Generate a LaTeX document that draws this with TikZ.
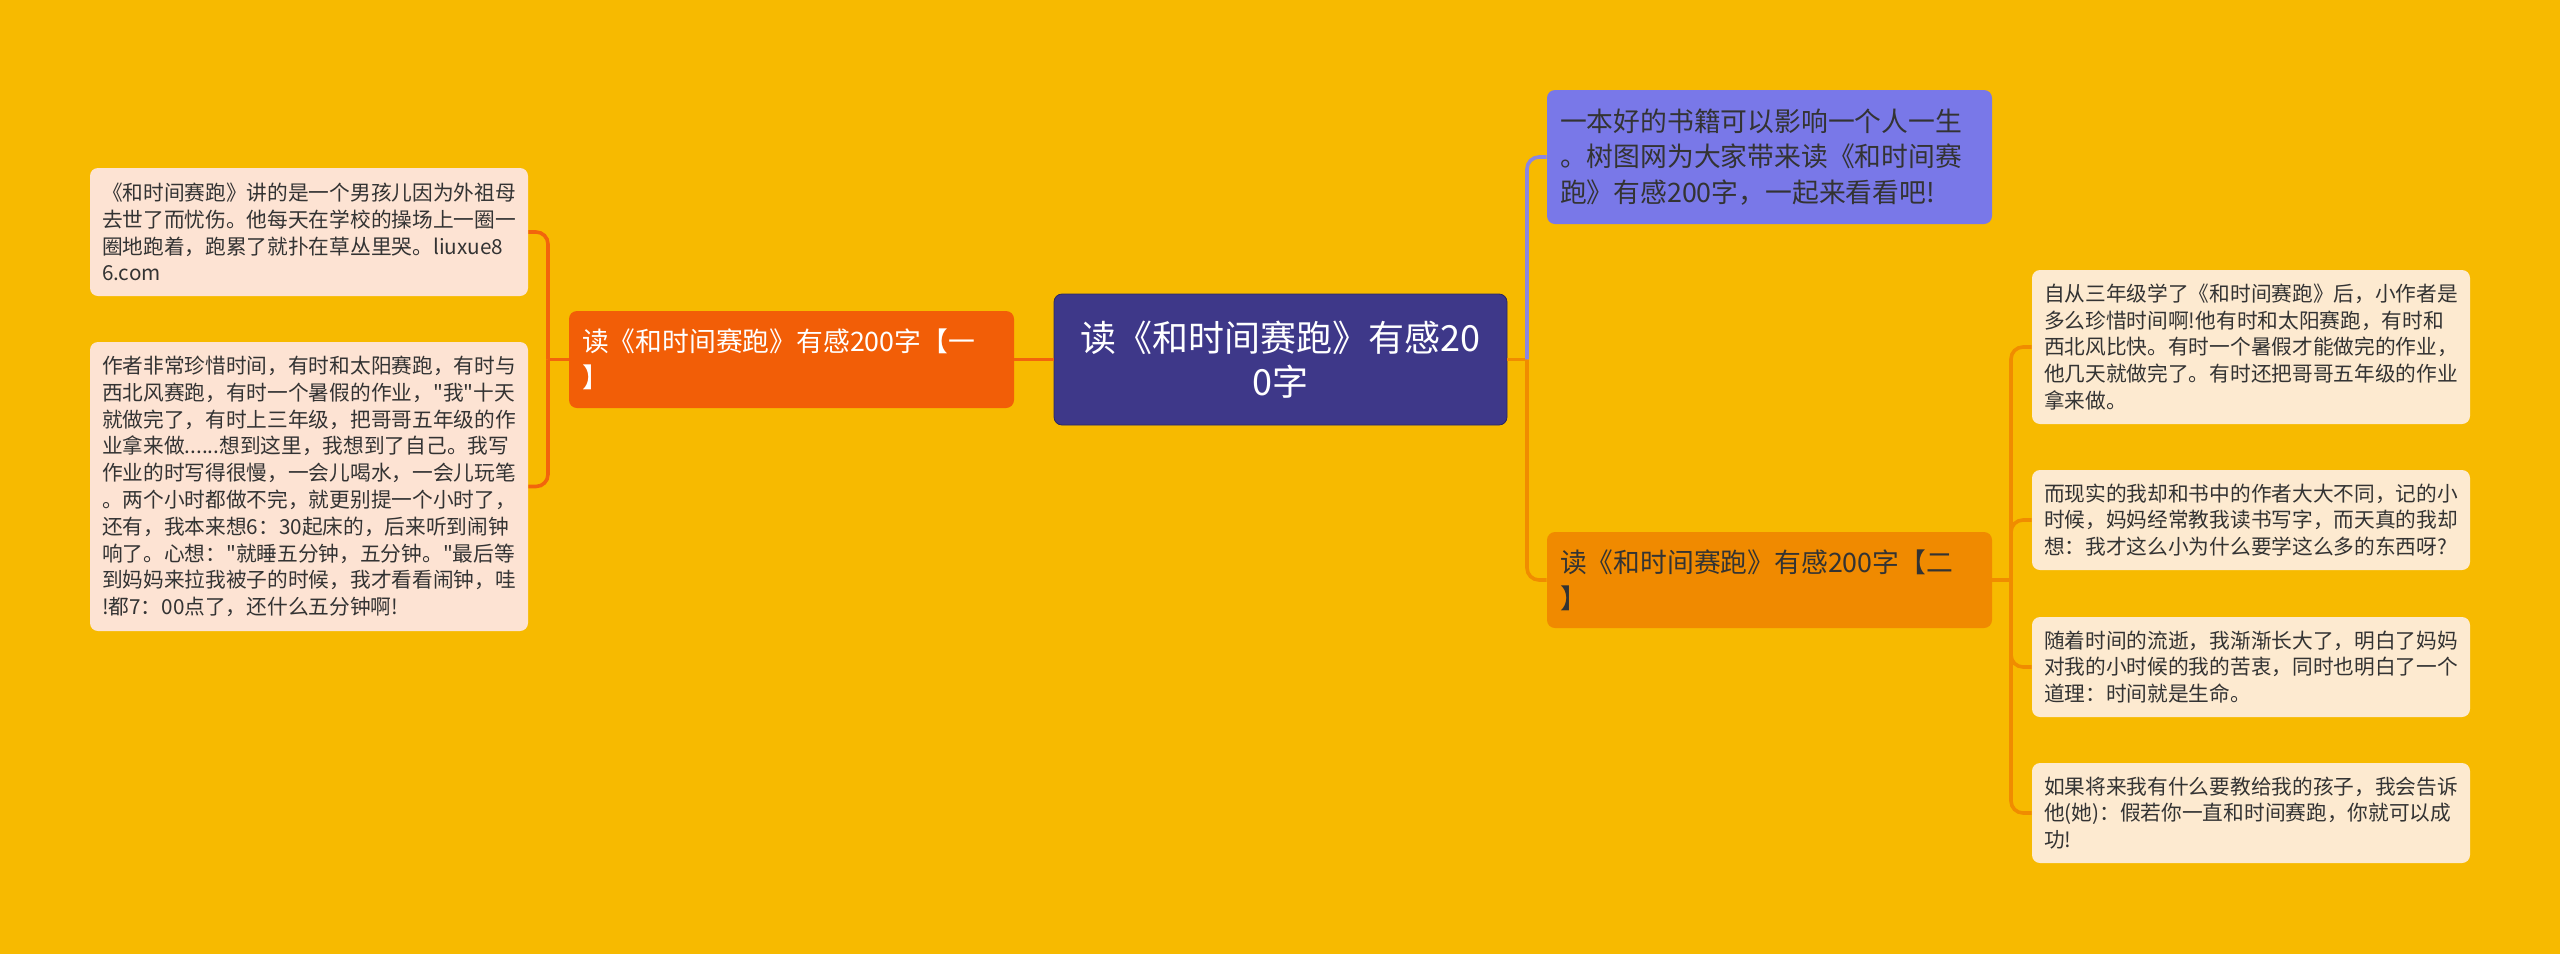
\documentclass[tikz,border=0pt]{standalone}
\usepackage{fontspec}
\setmainfont{Noto Sans CJK SC}[Ligatures=TeXOff]
\definecolor{bg}{HTML}{F7BA00}
\definecolor{centralfill}{HTML}{3E3889}
\definecolor{purplefill}{HTML}{7978E8}
\definecolor{redfill}{HTML}{F25E07}
\definecolor{orangefill}{HTML}{F08A00}
\definecolor{leftleaf}{HTML}{FDE3D3}
\definecolor{rightleaf}{HTML}{FDEAD0}
\definecolor{darktext}{HTML}{333333}
\definecolor{redline}{HTML}{F2650C}
\definecolor{orangeline}{HTML}{F08C00}
\definecolor{purpleline}{HTML}{8A86E2}
\tikzset{
  box/.style={rounded corners=4pt, align=left, inner ysep=2pt},
  leafl/.style={box, fill=leftleaf, text=darktext, minimum width=219pt, text width=207pt, inner xsep=6pt,
    font=\fontsize{10.35pt}{13.4pt}\selectfont},
  leafr/.style={leafl, fill=rightleaf},
  mid/.style={box, minimum width=222.5pt, text width=209.5pt, inner xsep=6.5pt,
    font=\fontsize{13.4pt}{17.8pt}\selectfont},
  centre/.style={rounded corners=4pt, fill=centralfill, text=white, align=center,
    minimum width=226.5pt, minimum height=65.5pt, text width=214pt,
    font=\fontsize{18pt}{22pt}\selectfont, draw=centralfill!70!black, line width=0.4pt},
  conn/.style={line width=1.8pt},
  rc/.style={rounded corners=6pt}
}
\begin{document}
\begin{tikzpicture}[x=0.5pt,y=-0.5pt]
\fill[bg] (0,0) rectangle (2560,954);
\useasboundingbox (0,0) rectangle (2560,954);

% nodes
\node[centre] (c) at (1280.5,359.5) {读《和时间赛跑》有感20\\0字};
\node[mid, fill=redfill, text=white, minimum height=48.5pt] (n1) at (791.5,359.5)
  {读《和时间赛跑》有感200字【一\\】};
\node[mid, fill=purplefill, text=darktext, minimum height=67pt] (p) at (1769.5,157)
  {一本好的书籍可以影响一个人一生\\。树图网为大家带来读《和时间赛\\跑》有感200字，一起来看看吧!};
\node[mid, fill=orangefill, text=darktext, minimum height=48pt] (n2) at (1769.5,580)
  {读《和时间赛跑》有感200字【二\\】};

\node[leafl, minimum height=64pt] (l1) at (309,232)
  {《和时间赛跑》讲的是一个男孩儿因为外祖母\\去世了而忧伤。他每天在学校的操场上一圈一\\圈地跑着，跑累了就扑在草丛里哭。liuxue8\\6.com};
\node[leafl, minimum height=144.5pt] (l2) at (309,486.5)
  {作者非常珍惜时间，有时和太阳赛跑，有时与\\西北风赛跑，有时一个暑假的作业，"我"十天\\就做完了，有时上三年级，把哥哥五年级的作\\业拿来做......想到这里，我想到了自己。我写\\作业的时写得很慢，一会儿喝水，一会儿玩笔\\。两个小时都做不完，就更别提一个小时了，\\还有，我本来想6：30起床的，后来听到闹钟\\响了。心想："就睡五分钟，五分钟。"最后等\\到妈妈来拉我被子的时候，我才看看闹钟，哇\\!都7：00点了，还什么五分钟啊!};

\node[leafr, minimum height=77pt] (r1) at (2251,347)
  {自从三年级学了《和时间赛跑》后，小作者是\\多么珍惜时间啊!他有时和太阳赛跑，有时和\\西北风比快。有时一个暑假才能做完的作业，\\他几天就做完了。有时还把哥哥五年级的作业\\拿来做。};
\node[leafr, minimum height=50pt] (r2) at (2251,520)
  {而现实的我却和书中的作者大大不同，记的小\\时候，妈妈经常教我读书写字，而天真的我却\\想：我才这么小为什么要学这么多的东西呀?};
\node[leafr, minimum height=50pt] (r3) at (2251,667)
  {随着时间的流逝，我渐渐长大了，明白了妈妈\\对我的小时候的我的苦衷，同时也明白了一个\\道理：时间就是生命。};
\node[leafr, minimum height=50pt] (r4) at (2251,813)
  {如果将来我有什么要教给我的孩子，我会告诉\\他(她)：假若你一直和时间赛跑，你就可以成\\功!};

% junction coordinates
\coordinate (jl) at (548,359.5);
\coordinate (jc) at (1527,359.5);
\coordinate (jr) at (2011,580);

% connectors
\begin{scope}[conn]
\draw[redline] (c.west) -- (n1.east);
\draw[redline] (n1.west) -- (jl);
\draw[redline, rc] (jl) |- (l1.east);
\draw[redline, rc] (jl) |- (l2.east);
\draw[orangeline] (c.east) -- (jc);
\draw[purpleline, rc] (jc) |- (p.west);
\draw[orangeline, rc] (jc) |- (n2.west);
\draw[orangeline] (n2.east) -- (jr);
\draw[orangeline, rc] (jr) |- (r1.west);
\draw[orangeline, rc] (jr) |- (r2.west);
\draw[orangeline, rc] (jr) |- (r3.west);
\draw[orangeline, rc] (jr) |- (r4.west);
\end{scope}
\end{tikzpicture}
\end{document}
